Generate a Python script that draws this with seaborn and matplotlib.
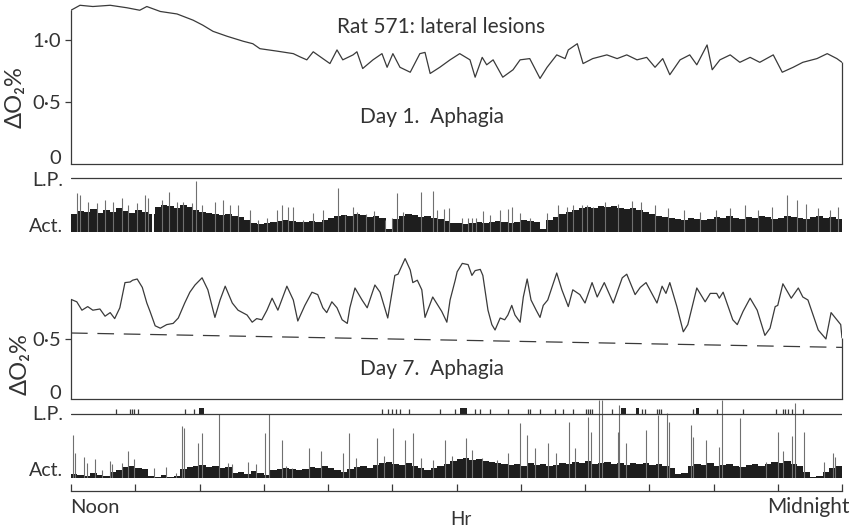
import numpy as np
import matplotlib
matplotlib.use("Agg")
import matplotlib.pyplot as plt
import seaborn as sns

# figure size in pixels (dpi 100)
W, H = 864, 528

# ---- Day 1 oxygen trace (hours after noon, delta O2 %) ----
day1_hr = [0.00, 0.14, 0.34, 0.61, 0.87, 1.07, 1.18, 1.39, 1.65, 1.90, 2.05, 2.21,
           2.43, 2.68, 2.83, 2.94, 3.21, 3.46, 3.56, 3.67, 3.77, 3.92, 4.03, 4.14,
           4.23, 4.39, 4.45, 4.54, 4.70, 4.84, 4.92, 5.01, 5.12, 5.28, 5.43, 5.51,
           5.59, 5.74, 5.90, 6.05, 6.21, 6.29, 6.40, 6.47, 6.57, 6.72, 6.88, 6.99,
           7.14, 7.30, 7.41, 7.56, 7.69, 7.74, 7.88, 7.97, 8.12, 8.34, 8.50, 8.65,
           8.81, 8.96, 9.09, 9.21, 9.32, 9.48, 9.63, 9.74, 9.90, 9.98, 10.10, 10.26,
           10.41, 10.57, 10.72, 10.93, 11.07, 11.24, 11.39, 11.61, 11.77, 11.92, 12.00]
day1_o2 = [1.24, 1.28, 1.27, 1.28, 1.26, 1.24, 1.27, 1.23, 1.21, 1.16, 1.12, 1.07,
           1.03, 0.99, 0.97, 0.93, 0.91, 0.89, 0.865, 0.84, 0.905, 0.85, 0.81, 0.92,
           0.84, 0.88, 0.905, 0.77, 0.84, 0.89, 0.78, 0.89, 0.78, 0.74, 0.89, 0.90,
           0.73, 0.78, 0.84, 0.89, 0.84, 0.70, 0.86, 0.80, 0.84, 0.70, 0.76, 0.84,
           0.85, 0.69, 0.78, 0.88, 0.85, 0.92, 0.97, 0.81, 0.85, 0.88, 0.85, 0.88,
           0.84, 0.86, 0.78, 0.85, 0.72, 0.84, 0.88, 0.80, 0.96, 0.76, 0.84, 0.88,
           0.82, 0.86, 0.82, 0.88, 0.74, 0.78, 0.82, 0.85, 0.89, 0.85, 0.82]

# ---- Day 7 oxygen trace ----
day7_hr = [0.00, 0.09, 0.17, 0.26, 0.34, 0.45, 0.53, 0.61, 0.68, 0.76, 0.84, 0.92,
           0.96, 1.03, 1.11, 1.18, 1.23, 1.31, 1.39, 1.49, 1.59, 1.67, 1.77, 1.85,
           1.93, 2.04, 2.13, 2.24, 2.32, 2.40, 2.51, 2.60, 2.74, 2.82, 2.89, 2.97,
           3.05, 3.13, 3.22, 3.36, 3.46, 3.53, 3.64, 3.75, 3.84, 3.92, 3.98, 4.06,
           4.14, 4.22, 4.30, 4.34, 4.42, 4.53, 4.61, 4.73, 4.81, 4.93, 5.04, 5.09,
           5.20, 5.28, 5.32, 5.39, 5.46, 5.51, 5.63, 5.77, 5.85, 5.90, 5.98, 6.01,
           6.09, 6.18, 6.24, 6.29, 6.37, 6.41, 6.49, 6.55, 6.60, 6.68, 6.75, 6.80,
           6.86, 6.91, 6.99, 7.04, 7.10, 7.16, 7.24, 7.30, 7.35, 7.42, 7.56, 7.64,
           7.74, 7.81, 7.92, 8.00, 8.11, 8.19, 8.30, 8.44, 8.58, 8.65, 8.78, 8.86,
           8.95, 9.12, 9.20, 9.26, 9.32, 9.43, 9.53, 9.60, 9.74, 9.87, 9.95, 10.05,
           10.09, 10.15, 10.30, 10.37, 10.46, 10.57, 10.68, 10.80, 10.88, 10.96, 11.00, 11.08,
           11.21, 11.32, 11.39, 11.47, 11.63, 11.75, 11.83, 11.92, 11.98, 12.00]
day7_o2 = [0.83, 0.81, 0.74, 0.77, 0.74, 0.75, 0.69, 0.72, 0.67, 0.76, 0.97, 0.975,
           0.99, 1.00, 0.93, 0.80, 0.73, 0.61, 0.59, 0.62, 0.63, 0.675, 0.80, 0.89,
           0.95, 1.01, 0.91, 0.68, 0.825, 0.94, 0.80, 0.74, 0.70, 0.64, 0.67, 0.66,
           0.74, 0.84, 0.74, 0.94, 0.825, 0.65, 0.78, 0.89, 0.87, 0.76, 0.72, 0.81,
           0.76, 0.66, 0.63, 0.76, 0.925, 0.825, 0.76, 0.95, 0.89, 0.675, 1.03, 1.04,
           1.17, 1.075, 0.97, 0.99, 0.91, 0.68, 0.85, 0.73, 0.64, 0.825, 0.99, 1.06,
           1.13, 1.12, 1.03, 1.07, 1.08, 1.03, 0.74, 0.62, 0.575, 0.675, 0.66, 0.70,
           0.78, 0.70, 0.64, 0.85, 1.00, 0.825, 0.74, 0.68, 0.78, 0.825, 1.05, 0.91,
           0.77, 0.91, 0.87, 0.80, 0.97, 0.85, 0.97, 0.80, 1.01, 1.04, 0.87, 0.93,
           0.97, 0.80, 0.94, 0.88, 0.97, 0.77, 0.56, 0.62, 0.925, 0.81, 0.88, 0.88,
           0.84, 0.89, 0.66, 0.62, 0.73, 0.84, 0.74, 0.53, 0.59, 0.77, 0.78, 0.96,
           0.84, 0.925, 0.85, 0.825, 0.575, 0.50, 0.72, 0.66, 0.62, 0.51]
# dashed resting level on day 7
rest_hr = [0.0, 12.0]
rest_o2 = [0.55, 0.43]

# ---- activity: dense counts in 0.1 h bins, plus single tall bursts ----
act1_bins = [18, 21, 20, 23, 19, 22, 20, 24, 21, 19, 22, 20, 18,
             25, 27, 26, 24, 27, 25, 22,
             20, 19, 18, 17, 18, 16, 15, 12,
             9, 8, 9, 10, 11, 12, 11, 10,
             10, 11, 10, 12, 14,
             16, 17, 16, 18, 17, 15, 16, 14,
             3,
             13, 16, 18, 17, 15, 16, 14, 13, 11,
             9, 9, 8, 9, 10, 9, 10, 11, 10, 9, 10, 12, 11, 10,
             3, 12, 15, 18, 20, 22, 24, 25, 24, 26,
             25, 26, 24, 23, 24, 22, 20, 18, 16,
             15, 14, 13, 12, 14, 13,
             12, 13, 15, 14, 16, 14, 13, 15, 14, 16, 15, 13, 14, 16, 15, 14,
             13, 15, 16, 14, 15, 13]
act1_spike_hr = [0.09, 0.14, 0.26, 0.40, 0.53, 0.65, 0.79, 0.89, 1.03, 1.15, 1.20, 1.42,
                 1.53, 1.65, 1.74, 1.88, 1.95, 2.04, 2.24, 2.37, 2.47, 2.60, 2.79, 2.91,
                 3.05, 3.21, 3.28, 3.38, 3.46, 3.61, 3.77, 3.92, 4.16, 4.26, 4.39, 4.45,
                 4.59, 4.72, 4.89, 5.00, 5.07, 5.17, 5.45, 5.63, 5.70, 5.81, 5.88, 6.09,
                 6.18, 6.24, 6.30, 6.41, 6.52, 6.68, 6.80, 6.86, 6.99, 7.14, 7.41, 7.58,
                 7.72, 7.81, 7.95, 8.03, 8.12, 8.31, 8.51, 8.73, 8.87, 9.09, 9.29, 9.54,
                 9.79, 10.04, 10.26, 10.49, 10.69, 10.91, 11.14, 11.30, 11.44, 11.63, 11.81, 11.94]
act1_spike = [39, 37, 30, 29, 32, 30, 34, 27, 29, 37, 34, 32,
              40, 30, 30, 29, 51, 27, 30, 32, 27, 27, 22, 12,
              14, 22, 27, 25, 25, 12, 19, 22, 44, 17, 25, 20,
              18, 21, 12, 14, 39, 20, 40, 41, 22, 23, 24, 14,
              14, 14, 14, 21, 17, 22, 23, 25, 19, 14, 19, 27,
              25, 27, 27, 27, 25, 30, 28, 31, 30, 27, 24, 22,
              20, 22, 24, 27, 22, 25, 37, 32, 28, 24, 22, 25]
act1_gap_hr = [1.28]

act7_bins = [4, 3, 2, 5, 3, 2, 6, 8,
             11, 12, 10, 9,
             2, 1, 3, 1, 2,
             9, 11, 12, 13, 11, 12, 10, 11,
             5, 6, 4, 7, 5, 3, 8, 9,
             10, 9, 8,
             9, 11, 10, 12, 10, 8,
             6, 9, 11, 12, 10, 13,
             15, 16, 14, 13, 15, 12, 10,
             8, 10, 12, 14,
             17, 19, 20, 18, 19, 17, 16, 15, 14,
             13, 14, 12, 15, 13, 14, 12, 13, 15,
             14, 16, 15, 17, 14, 15,
             16, 14, 15, 13, 15, 14,
             15, 13, 14, 12, 10,
             4, 5,
             12, 14, 13, 15, 12,
             13, 14, 12, 11, 13, 14, 12,
             14, 16, 15, 17, 14, 12, 6,
             1, 2,
             6, 10, 12]
act7_spike_hr = [0.03, 0.06, 0.20, 0.25, 0.37, 0.48, 0.61, 0.64, 0.79, 0.89, 0.98, 1.29,
                 1.48, 1.63, 1.73, 1.76, 1.98, 2.04, 2.30, 2.44, 2.51, 2.75, 2.88, 3.02,
                 3.08, 3.28, 3.35, 3.44, 3.70, 3.89, 4.23, 4.33, 4.44, 4.76, 4.87, 5.01,
                 5.20, 5.32, 5.45, 5.63, 5.82, 5.93, 6.15, 6.24, 6.40, 6.63, 6.80, 6.99,
                 7.10, 7.22, 7.42, 7.55, 7.75, 7.84, 8.05, 8.09, 8.22, 8.26, 8.51, 8.53,
                 8.64, 8.95, 9.14, 9.28, 9.31, 9.65, 9.68, 9.88, 10.09, 10.13, 10.41, 10.82,
                 11.00, 11.08, 11.22, 11.27, 11.41, 11.72, 11.86, 11.89]
act7_spike = [43, 25, 21, 15, 19, 8, 17, 14, 15, 27, 19, 10,
              11, 5, 52, 50, 35, 45, 64, 15, 14, 16, 14, 45,
              64, 38, 12, 10, 30, 27, 25, 45, 20, 40, 22, 50,
              38, 45, 20, 18, 38, 22, 40, 28, 20, 18, 25, 55,
              43, 30, 35, 25, 56, 30, 61, 46, 78, 78, 46, 73,
              35, 48, 63, 65, 56, 53, 41, 38, 31, 78, 60, 16,
              46, 27, 42, 75, 46, 16, 25, 21]

# lever presses on day 7 (single presses and runs of presses)
lp7_hr = [0.70, 0.92, 0.95, 0.98, 1.04, 1.77, 1.91, 4.84, 4.93, 5.00, 5.06, 5.12,
          5.26, 5.74, 5.98, 6.29, 6.37, 6.52, 6.80, 7.11, 7.14, 7.30, 7.53, 7.66,
          7.81, 8.02, 8.05, 8.08, 8.11, 8.42, 8.89, 8.93, 9.12, 9.15, 9.18, 9.68,
          10.05, 10.46, 10.97, 11.08, 11.11, 11.16, 11.22, 11.39]
lp7_run_start = [1.99, 6.05, 8.56, 8.79, 9.73]
lp7_run_len = [0.08, 0.12, 0.08, 0.05, 0.05]

hour_ticks = list(range(13))

# ---- style ----
sns.set_theme(style="white")
plt.rcParams['font.family'] = ['Lato', 'DejaVu Sans']
plt.rcParams['lines.scale_dashes'] = False
ink = '#3a3a3a'
txt = '#333333'


def px_rect(l, t, r, b):
    return [l / W, 1 - b / H, (r - l) / W, (b - t) / H]


def fy(y):
    return 1 - y / H


fig = plt.figure(figsize=(W / 100, H / 100), dpi=100)
fig.patch.set_facecolor('white')


def o2_panel(rect, ymax, hrs, vals, ticks, labels):
    ax = fig.add_axes(rect)
    ax.set_facecolor('none')
    sns.lineplot(x=hrs, y=vals, ax=ax, color=ink, lw=0.9, estimator=None)
    # side walls of the record, from zero up to the trace ends
    ax.vlines([hrs[0]], 0, vals[0], color=ink, lw=0.9, clip_on=False)
    ax.vlines([hrs[-1]], 0, vals[-1], color=ink, lw=0.9, clip_on=False)
    ax.set_xlim(0, 12)
    ax.set_ylim(0, ymax)
    for s in ['top', 'right', 'left']:
        ax.spines[s].set_visible(False)
    ax.spines['bottom'].set_color(ink)
    ax.spines['bottom'].set_linewidth(0.9)
    ax.set_xticks([])
    ax.set_yticks(ticks)
    ax.set_yticklabels(labels)
    ax.tick_params(axis='y', direction='out', length=4, width=0.9, color=ink,
                   pad=3, labelsize=14.5, labelcolor=txt, left=True)
    zero = ax.yaxis.get_major_ticks()[0]
    zero.tick1line.set_visible(False)
    zero.label1.set_verticalalignment('baseline')
    ax.set_xlabel('')
    ax.set_ylabel('')
    return ax


def act_panel(rect, ymax, lp_level, bins, spk_hr, spk):
    ax = fig.add_axes(rect)
    ax.set_facecolor('none')
    centers = np.arange(len(bins)) * 0.1 + 0.05
    ax.vlines(spk_hr, 0, spk, color='#707070', lw=0.8)
    ax.bar(centers, bins, width=0.1, color='#1e1e1e', linewidth=0)
    ax.axhline(lp_level, color=ink, lw=0.9)
    ax.axhline(0, color='#555555', lw=0.6)
    ax.set_xlim(0, 12)
    ax.set_ylim(0, ymax)
    ax.axis('off')
    return ax


# Day 1
ax1 = o2_panel(px_rect(71, 3, 842, 164), 161 / 124, day1_hr, day1_o2,
               [0, 0.5, 1.0], ['0', '0·5', '1·0'])
a1 = act_panel(px_rect(71, 170, 842, 232), 62, 54, act1_bins, act1_spike_hr, act1_spike)
a1.vlines(act1_gap_hr, 0, 26, color='white', lw=1.4)

# Day 7
ax7 = o2_panel(px_rect(71, 245, 842, 399), 154 / 120, day7_hr, day7_o2,
               [0, 0.5], ['0', '0·5'])
sns.lineplot(x=rest_hr, y=rest_o2, ax=ax7, color=ink, lw=0.9, dashes=False,
             estimator=None, linestyle=(0, (12, 7)))
a7 = act_panel(px_rect(71, 399, 842, 478), 79, 64, act7_bins, act7_spike_hr, act7_spike)
a7.vlines(lp7_hr, 64, 69, color=ink, lw=0.9)
a7.bar(lp7_run_start, 6, width=lp7_run_len, bottom=64, align='edge',
       color='#222222', linewidth=0)

# time axis
axt = fig.add_axes(px_rect(71, 480, 842, 491))
axt.set_facecolor('none')
axt.set_xlim(0, 12)
axt.set_ylim(0, 1)
for s in ['top', 'right', 'left']:
    axt.spines[s].set_visible(False)
axt.spines['bottom'].set_color(ink)
axt.spines['bottom'].set_linewidth(0.9)
axt.set_xticks(hour_ticks)
axt.set_xticklabels([])
axt.set_yticks([])
axt.tick_params(axis='x', direction='in', length=5, width=0.9, color=ink, bottom=True)

# texts
fig.text(441 / W, fy(27), 'Rat 571: lateral lesions', ha='center', va='center',
         fontsize=15, color=txt)
fig.text(432 / W, fy(117), 'Day 1.  Aphagia', ha='center', va='center',
         fontsize=15, color=txt)
fig.text(432 / W, fy(369), 'Day 7.  Aphagia', ha='center', va='center',
         fontsize=15, color=txt)
fig.text(15 / W, fy(97), 'ΔO₂%', rotation=90, ha='center', va='center',
         fontsize=17, color=txt)
fig.text(20 / W, fy(364), 'ΔO₂%', rotation=90, ha='center', va='center',
         fontsize=17, color=txt)
for yl, lab in [(181, 'L.P.'), (227, 'Act.'), (414, 'L.P.'), (471, 'Act.')]:
    fig.text(63 / W, fy(yl), lab, ha='right', va='center', fontsize=14, color=txt)
fig.text(70 / W, fy(513), 'Noon', ha='left', va='baseline', fontsize=14.5, color=txt)
fig.text(850 / W, fy(513), 'Midnight', ha='right', va='baseline', fontsize=15, color=txt)
fig.text(461 / W, fy(525), 'Hr', ha='center', va='baseline', fontsize=13.5, color=txt)

fig.savefig('out.png', dpi=100, facecolor='white')
